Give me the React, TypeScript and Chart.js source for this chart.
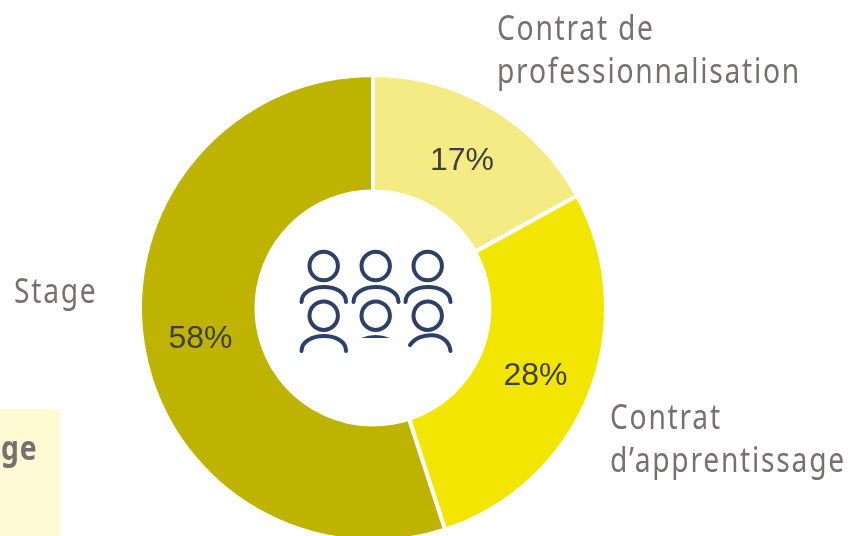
import React, { useEffect, useRef } from "react";
import { Chart, registerables } from "chart.js";

Chart.register(...registerables);

const categories = ["Contrat de professionnalisation", "Contrat d’apprentissage", "Stage"];
const sliceShares = [17, 28, 55];
const printedLabels = ["17%", "28%", "58%"];
const sliceColors = ["#F5EB85", "#F2E600", "#BDB300"];

const LABEL_FONT = '"Noto Sans", sans-serif';

const labelPlugin = {
  id: "sliceLabels",
  afterDatasetsDraw(chart: any) {
    const { ctx } = chart;
    const arcs = chart.getDatasetMeta(0).data;
    ctx.save();
    ctx.font = '32px "Liberation Sans", Arial, sans-serif';
    ctx.fillStyle = "#404040";
    ctx.textAlign = "center";
    ctx.textBaseline = "middle";
    arcs.forEach((arc: any, i: number) => {
      const p = arc.getCenterPoint();
      ctx.fillText(printedLabels[i], p.x, p.y + 4);
    });
    ctx.restore();
  },
};

const textStyle: React.CSSProperties = {
  position: "absolute",
  fontFamily: LABEL_FONT,
  fontSize: 34,
  lineHeight: "43px",
  letterSpacing: "2.1px",
  color: "#767171",
  whiteSpace: "nowrap",
  transform: "scaleX(0.83)",
  transformOrigin: "left top",
};

function PeopleIcon() {
  const stroke = "#2F4068";
  const heads = [
    [323.7, 266], [375.7, 266], [427.7, 266],
    [323.7, 315.7], [375.7, 315.7], [427.7, 315.7],
  ];
  return (
    <svg width={848} height={536} style={{ position: "absolute", left: 0, top: 0 }}>
      <g fill="none" stroke={stroke} strokeWidth={4} strokeLinecap="round">
        {heads.map(([cx, cy], i) => (
          <circle key={i} cx={cx} cy={cy} r={14.2} />
        ))}
        <path d="M301.5 302 C302 282 346 282 346 302" />
        <path d="M353.5 302 C354 282 398 282 398.5 302" />
        <path d="M405.5 302 C406 282 450 282 450.5 302" />
        <path d="M301.5 351 C302 331 346 331 346 351" />
        <path d="M410 345 C420 331 448 331 450.5 351" />
      </g>
      <path d="M361 338 Q375.7 332 390 338 Z" fill={stroke} />
    </svg>
  );
}

export default function App() {
  const ref = useRef<HTMLCanvasElement>(null);

  useEffect(() => {
    document.body.style.margin = "0";
    const chart = new Chart(ref.current!, {
      type: "doughnut",
      data: {
        labels: categories,
        datasets: [
          {
            data: sliceShares,
            backgroundColor: sliceColors,
            borderColor: "#FFFFFF",
            borderWidth: 4,
          },
        ],
      },
      options: {
        responsive: false,
        animation: false,
        cutout: "50%",
        layout: { padding: { left: 138, right: 240, top: 73, bottom: 73 } },
        plugins: { legend: { display: false }, tooltip: { enabled: false } },
      },
      plugins: [labelPlugin],
    });
    return () => chart.destroy();
  }, []);

  return (
    <div style={{ position: "relative", width: 848, height: 536, overflow: "hidden", background: "#FFFFFF" }}>
      <div style={{ position: "absolute", left: 0, top: 409, width: 60, height: 127, background: "#FDFAD3" }} />
      <canvas ref={ref} width={848} height={616} style={{ position: "absolute", left: 0, top: 0 }} />
      <PeopleIcon />
      <div style={{ ...textStyle, left: 497, top: 6 }}>
        Contrat de
        <br />
        professionnalisation
      </div>
      <div style={{ ...textStyle, left: 610, top: 395 }}>
        Contrat
        <br />
        d’apprentissage
      </div>
      <div style={{ ...textStyle, left: 14, top: 269 }}>Stage</div>
      <div style={{ ...textStyle, left: 1, top: 426, fontWeight: 700, letterSpacing: "1px" }}>ge</div>
    </div>
  );
}
